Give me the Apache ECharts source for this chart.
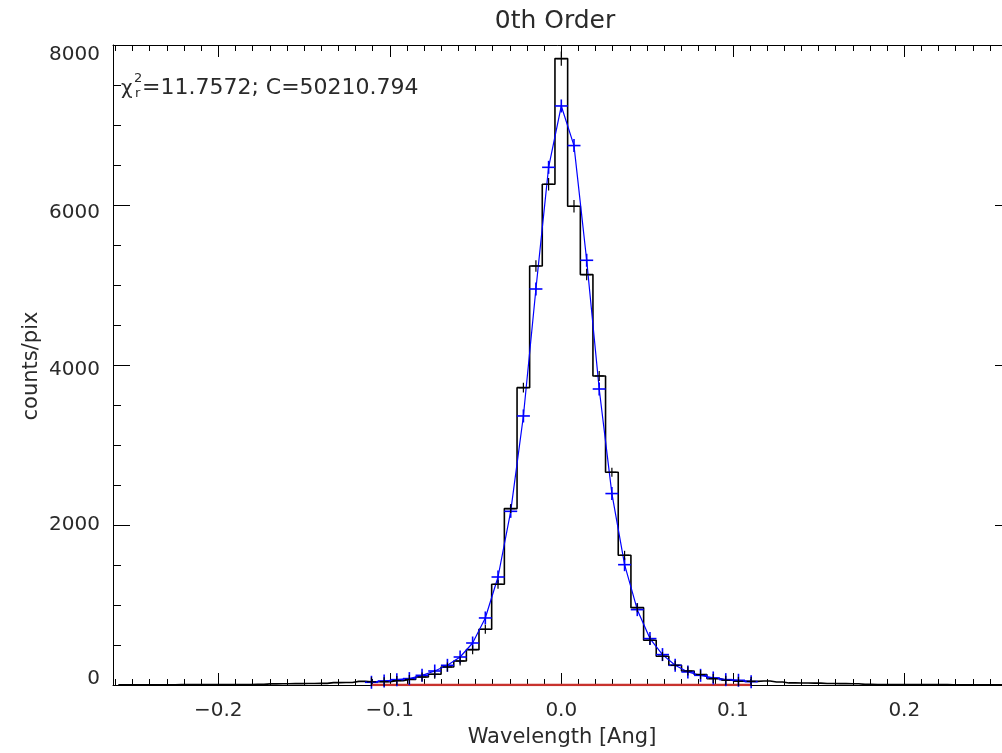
<!DOCTYPE html>
<html><head><meta charset="utf-8">
<script src="https://cdn.jsdelivr.net/npm/echarts@6/dist/echarts.min.js"></script>
<style>html,body{margin:0;padding:0;background:#fff}#c{width:1002px;height:753px}</style>
</head><body><div id="c"></div>
<script>
// ---- data ----
const binCenters = [
 -0.2583,-0.2509,-0.2435,-0.2362,-0.2288,-0.2214,-0.2140,-0.2066,-0.1993,-0.1919,
 -0.1845,-0.1771,-0.1697,-0.1624,-0.1550,-0.1476,-0.1402,-0.1328,-0.1255,-0.1181,
 -0.1107,-0.1033,-0.0959,-0.0886,-0.0812,-0.0738,-0.0664,-0.0590,-0.0517,-0.0443,
 -0.0369,-0.0295,-0.0221,-0.0148,-0.0074,0.0000,
 0.0074,0.0148,0.0221,0.0295,0.0369,0.0443,0.0517,0.0590,0.0664,0.0738,
 0.0812,0.0886,0.0959,0.1033,0.1107,0.1181,0.1255,0.1328,0.1402,0.1476,
 0.1550,0.1624,0.1697,0.1771,0.1845,0.1919,0.1993,0.2066,0.2140,0.2214,
 0.2288,0.2362,0.2435,0.2509,0.2583];
const dataCounts = [
 2,3,3,4,4,5,5,5,6,6,7,8,
 14,16,17,18,20,
 30,32,
 45,
 40,42,55,70,100,134,225,300,442,696,1259,2205,3717,5238,6259,
 7830,
 5984,5130,3863,2659,1621,967,559,359,246,175,130,80,59,46,45,
 50,38,
 26,25,24,
 18,17,16,
 8,7,6,6,5,5,5,4,4,3,3,2];
const modelCenters = [
 -0.1107,-0.1033,-0.0959,-0.0886,-0.0812,-0.0738,-0.0664,-0.0590,-0.0517,-0.0443,
 -0.0369,-0.0295,-0.0221,-0.0148,-0.0074,0.0000,0.0074,0.0148,0.0221,0.0295,
 0.0369,0.0443,0.0517,0.0590,0.0664,0.0738,0.0812,0.0886,0.0959,0.1033,0.1107];
const modelCounts = [
 34,50,67,80,121,175,246,350,525,838,1350,2171,3363,4950,6471,
 7238,
 6743,5309,3700,2393,1504,942,580,380,246,163,121,88,67,59,42];
const pointCounts = [
 40,42,55,70,100,134,225,300,442,696,1259,2205,3717,5238,6259,
 7830,
 5984,5130,3863,2659,1621,967,559,359,246,175,130,80,59,46,45];
const pointErrors = [
 6,6,7,8,10,12,15,17,21,26,35,47,61,72,79,
 88,
 77,72,62,52,40,31,24,19,16,13,11,9,8,7,7];
const baselineCounts = [0,0,0,0,0,0,0,0,0,0,0,0,0,0,0,0,0,0,0,0,0,0,0,0,0,0,0,0,0,0,0];
const xMajorTicks = [-0.2,-0.1,0.0,0.1,0.2];
const xMinorTicks = [
 -0.26,-0.25,-0.24,-0.23,-0.22,-0.21,-0.20,-0.19,-0.18,-0.17,-0.16,-0.15,-0.14,-0.13,-0.12,-0.11,
 -0.10,-0.09,-0.08,-0.07,-0.06,-0.05,-0.04,-0.03,-0.02,-0.01,0.00,
 0.01,0.02,0.03,0.04,0.05,0.06,0.07,0.08,0.09,0.10,0.11,0.12,0.13,0.14,0.15,0.16,
 0.17,0.18,0.19,0.20,0.21,0.22,0.23,0.24,0.25,0.26];
const yTickValues = [0,2000,4000,6000,8000];
const titleText = '0th Order';
const xAxisName = 'Wavelength [Ang]';
const yAxisName = 'counts/pix';
const statText = '=11.7572; C=50210.794';

// ---- chart ----
const FONT = "'DejaVu Sans'";
const TXT = '#2a2a2a';
const XMIN = -0.2614, XMAX = 0.2628;
const chart = echarts.init(document.getElementById('c'), null, {renderer:'canvas'});

function zip(a,b){ return a.map((v,i)=>[v,b[i]]); }
function fmtX(v){ const s = Math.abs(v).toFixed(1); return v < -1e-9 ? '\u2212' + s : s; }

// small vertical label nudges as in the reference (padding top/bottom)
const yLabelPad = {0:[0,0,12,0], 2000:[0,0,0,0], 4000:[10,0,0,0], 6000:[15,0,0,0], 8000:[20,0,0,0]};
const yRich = {};
yTickValues.forEach(v => { yRich['o'+v] = {fontSize:20, fontFamily:FONT, color:TXT, padding:yLabelPad[v]}; });

function xAxisDef(pos, ticks, len, withLine, withLabel){
  return {
    type:'value', position:pos, min:XMIN, max:XMAX, gridIndex:0,
    axisLine:{show:withLine, onZero:false, lineStyle:{color:'#000', width:1}},
    axisTick:{show:true, inside:true, length:len, customValues:ticks, lineStyle:{color:'#000', width:1}},
    axisLabel:{show:withLabel, customValues:ticks, formatter:fmtX, fontSize:20, color:TXT, fontFamily:FONT, margin:16},
    splitLine:{show:false}, minorTick:{show:false}
  };
}
function yAxisDef(pos, withLabel){
  return {
    type:'value', position:pos, min:0, max:8000, interval:2000, gridIndex:0,
    axisLine:{show:true, onZero:false, lineStyle:{color:'#000', width:1}},
    axisTick:{show:true, inside:true, length:17, lineStyle:{color:'#000', width:1}},
    minorTick:{show:true, splitNumber:4, length:8, lineStyle:{color:'#000', width:1}},
    axisLabel:{show:withLabel, fontSize:20, color:TXT, fontFamily:FONT, margin:13,
      formatter:function(v){ return '{o' + v + '|' + String(v) + '}'; }, rich:yRich},
    splitLine:{show:false}
  };
}
function plusSeries(xs, ys, errs, color, half, width, z){
  return {
    type:'custom', xAxisIndex:0, yAxisIndex:0, z:z,
    dimensions:['x','y','e'], encode:{x:0, y:1},
    data: xs.map((x,i)=>[x, ys[i], errs ? errs[i] : 0]),
    renderItem:function(params, api){
      const x = api.value(0), y = api.value(1), e = api.value(2);
      const p = api.coord([x,y]);
      const pt = api.coord([x,y+e]), pb = api.coord([x,y-e]);
      const top = Math.min(pt[1], p[1]-half), bot = Math.max(pb[1], p[1]+half);
      return {type:'group', children:[
        {type:'line', shape:{x1:p[0]-half, y1:p[1], x2:p[0]+half, y2:p[1]}, style:{stroke:color, lineWidth:width}},
        {type:'line', shape:{x1:p[0], y1:top, x2:p[0], y2:bot}, style:{stroke:color, lineWidth:width}}
      ]};
    }
  };
}

const option = {
  backgroundColor:'#fff',
  animation:false,
  grid:{left:113, top:45, width:899, height:640, containLabel:false, outerBoundsMode:'none'},
  xAxis:[
    xAxisDef('bottom', xMajorTicks, 12, true, true),
    xAxisDef('bottom', xMinorTicks, 6, false, false),
    xAxisDef('top', xMajorTicks, 12, true, false),
    xAxisDef('top', xMinorTicks, 6, false, false)
  ],
  yAxis:[ yAxisDef('left', true), yAxisDef('right', false) ],
  series:[
    {type:'line', name:'data', xAxisIndex:0, yAxisIndex:0, step:'middle', showSymbol:false, symbol:'none',
     data: zip(binCenters, dataCounts), lineStyle:{color:'#000', width:1.6}, z:2},
    {type:'line', name:'baseline', xAxisIndex:0, yAxisIndex:0, showSymbol:false, symbol:'none',
     data: zip(modelCenters, baselineCounts), lineStyle:{color:'#c8322d', width:2.5}, z:3},
    {type:'line', name:'model', xAxisIndex:0, yAxisIndex:0, showSymbol:false, symbol:'none',
     data: zip(modelCenters, modelCounts), lineStyle:{color:'#0000ff', width:1.2}, z:4},
    plusSeries(modelCenters, modelCounts, null, '#0000ff', 6.5, 1.6, 5),
    plusSeries(modelCenters, pointCounts, pointErrors, '#000', 4.5, 1.2, 6)
  ],
  graphic:[
    {type:'text', x:555, y:21, style:{text:titleText, font:"25px "+FONT, fill:TXT, textAlign:'center', textVerticalAlign:'middle'}},
    {type:'text', x:562, y:738, style:{text:xAxisName, font:"21px "+FONT, fill:TXT, textAlign:'center', textVerticalAlign:'middle'}},
    {type:'text', x:32, y:366, rotation:Math.PI/2, style:{text:yAxisName, font:"21px "+FONT, fill:TXT, textAlign:'center', textVerticalAlign:'middle'}},
    {type:'text', x:121, y:89, style:{text:'\u03c7', font:"20px "+FONT, fill:TXT, textAlign:'left', textVerticalAlign:'middle'}},
    {type:'text', x:134, y:79, style:{text:'2', font:"13px "+FONT, fill:TXT, textAlign:'left', textVerticalAlign:'middle'}},
    {type:'text', x:135, y:94, style:{text:'r', font:"13px "+FONT, fill:TXT, textAlign:'left', textVerticalAlign:'middle'}},
    {type:'text', x:142, y:88, style:{text:statText, font:"22px "+FONT, fill:TXT, textAlign:'left', textVerticalAlign:'middle'}}
  ]
};
chart.setOption(option);
</script></body></html>
